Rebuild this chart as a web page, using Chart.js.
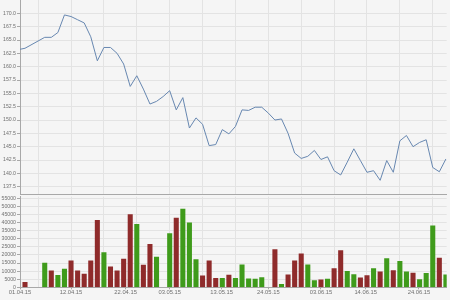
<!DOCTYPE html>
<html>
<head>
<meta charset="utf-8">
<script src="https://cdn.jsdelivr.net/npm/chart.js@4.4.1/dist/chart.umd.min.js"></script>
<style>
  html, body { margin: 0; padding: 0; background: #f5f5f5; }
  #wrap { position: relative; width: 450px; height: 300px; overflow: hidden; }
  canvas { position: absolute; left: 0; }
  #priceChart { top: 0; }
  #volumeChart { top: 196px; }
</style>
</head>
<body>
<div id="wrap">
  <canvas id="priceChart" width="450" height="196"></canvas>
  <canvas id="volumeChart" width="450" height="104"></canvas>
</div>
<script>
// one slot per trading day; slot 0 sits just left of the visible area
const prices = [
  163.2, 163.45, null, null, 165.5, 165.5, 166.4, 169.7, 169.4, 168.8,
  168.2, 165.6, 161.1, 163.6, 163.6, 162.5, 160.5, 156.3, 158.3, 155.8,
  153.0, 153.5, 154.4, 155.5, 151.9, 154.2, 148.5, 150.4, 149.2, 145.2,
  145.4, 148.2, 147.4, 148.8, 151.9, 151.8, 152.4, 152.4, 151.3, 150.0,
  150.2, 147.5, 143.8, 142.8, 143.2, 144.3, 142.6, 143.1, 140.5, 139.7,
  142.1, 144.6, 142.4, 140.2, 140.5, 138.7, 142.4, 140.2, 146.1, 147.1,
  145.0, 145.8, 146.3, 141.1, 140.3, 142.7
];
const volumes = [
  null, 3100, null, null, 15000, 10200, 7400, 11300, 16400, 10200,
  8200, 16400, 41400, 21500, 12700, 10200, 17400, 44900, 38900, 13700,
  26600, 18700, null, 33100, 42700, 48300, 39800, 17100, 7100, 16400,
  5600, 5600, 7500, 5600, 13900, 5200, 5000, 6000, null, 23300,
  1900, 7700, 16400, 20700, 13900, 4200, 4600, 5000, 11500, 22700,
  9800, 7900, 5800, 7300, 11500, 9600, 17700, 10400, 16000, 9600,
  8800, 4800, 8700, 38000, 18000, 7700
];
// u = up day (green), d = down day (red)
const direction = [
  '', 'd', '', '', 'u', 'd', 'u', 'u', 'd', 'd',
  'd', 'd', 'd', 'u', 'd', 'd', 'd', 'd', 'u', 'd',
  'd', 'u', '', 'u', 'd', 'u', 'u', 'u', 'd', 'd',
  'd', 'u', 'd', 'u', 'u', 'u', 'u', 'u', '', 'd',
  'u', 'd', 'd', 'd', 'u', 'u', 'd', 'u', 'd', 'd',
  'u', 'u', 'd', 'd', 'u', 'd', 'u', 'd', 'u', 'u',
  'd', 'u', 'u', 'u', 'd', 'u'
];

const dateLabels = ['01.04.15', '12.04.15', '22.04.15', '03.05.15', '13.05.15', '24.05.15', '03.06.15', '14.06.15', '24.06.15'];
const dateSlots = [0.24, 8, 16.3, 23, 30.9, 38, 46, 52.8, 60.9];
const gridSlots = [3, 8, 13, 18, 23, 28, 33, 38, 43, 48, 53, 58, 63];
const priceTicks = [137.5, 140, 142.5, 145, 147.5, 150, 152.5, 155, 157.5, 160, 162.5, 165, 167.5, 170];
const volumeTicks = [0, 5000, 10000, 15000, 20000, 25000, 30000, 35000, 40000, 45000, 50000, 55000];

const xMin = 0.24, xMax = 65.12;

const GRID = '#e3e3e3';
const AXIS = '#a8a8a8';
const TEXT = '#707070';
const NONE = 'rgba(0,0,0,0)';
const FONT = "'Liberation Sans', Arial, sans-serif";

function setTicks(list) {
  return axis => { axis.ticks = list.map(v => ({ value: v })); };
}
function noPad(w, h) {
  return axis => {
    if (w !== undefined) axis.width = w;
    if (h !== undefined) axis.height = h;
    axis.paddingTop = 0; axis.paddingBottom = 0;
    axis.paddingLeft = 0; axis.paddingRight = 0;
  };
}

const xTicks = Array.from(new Set(gridSlots.concat(dateSlots))).sort((a, b) => a - b);

// price line
new Chart(document.getElementById('priceChart'), {
  type: 'line',
  data: {
    datasets: [{
      data: prices.map((p, i) => ({ x: i, y: p })),
      borderColor: '#6787b0',
      borderWidth: 1,
      pointRadius: 0,
      tension: 0,
      spanGaps: true
    }]
  },
  options: {
    responsive: false,
    animation: false,
    layout: { padding: { left: 0, right: 3.3, top: 0, bottom: 0 } },
    plugins: { legend: { display: false }, tooltip: { enabled: false } },
    scales: {
      x: {
        type: 'linear', min: xMin, max: xMax, offset: false,
        afterBuildTicks: setTicks(gridSlots),
        afterFit: noPad(undefined, 1.3),
        ticks: { display: false },
        grid: { color: GRID, drawTicks: false, offset: false },
        border: { color: AXIS }
      },
      y: {
        min: 136, max: 172.5,
        afterBuildTicks: setTicks(priceTicks),
        afterFit: noPad(20),
        ticks: {
          autoSkip: false, padding: 1, color: TEXT,
          font: { family: FONT, size: 5.2 },
          callback: v => v.toFixed(1)
        },
        grid: { color: GRID, tickColor: AXIS, tickLength: 3 },
        border: { color: AXIS }
      }
    }
  }
});

// volume bars
new Chart(document.getElementById('volumeChart'), {
  type: 'bar',
  data: {
    datasets: [{
      data: volumes.map((v, i) => ({ x: i, y: v })),
      backgroundColor: direction.map(d => d === 'u' ? '#3f9b1b' : '#8f2b2b'),
      barThickness: 4.4
    }]
  },
  options: {
    responsive: false,
    animation: false,
    layout: { padding: { left: 0, right: 3.3, top: 0.6, bottom: 0 } },
    plugins: { legend: { display: false }, tooltip: { enabled: false } },
    scales: {
      x: {
        type: 'linear', min: xMin, max: xMax, offset: false,
        afterBuildTicks: setTicks(xTicks),
        afterFit: noPad(undefined, 12.7),
        ticks: {
          autoSkip: false, maxRotation: 0, padding: 0, color: TEXT,
          font: { family: FONT, size: 5.8 },
          callback: v => {
            const i = dateSlots.indexOf(v);
            return i >= 0 ? dateLabels[i] : '';
          }
        },
        grid: {
          offset: false, tickLength: 2,
          color: ctx => gridSlots.includes(ctx.tick && ctx.tick.value) ? GRID : NONE,
          tickColor: ctx => dateSlots.includes(ctx.tick && ctx.tick.value) ? AXIS : NONE
        },
        border: { color: AXIS }
      },
      y: {
        min: 0, max: 56000,
        afterBuildTicks: setTicks(volumeTicks),
        afterFit: noPad(20),
        ticks: {
          autoSkip: false, padding: 1, color: TEXT,
          font: { family: FONT, size: 5.2 },
          callback: v => String(v)
        },
        grid: { color: GRID, tickColor: AXIS, tickLength: 3 },
        border: { color: AXIS }
      }
    }
  }
});
</script>
</body>
</html>
